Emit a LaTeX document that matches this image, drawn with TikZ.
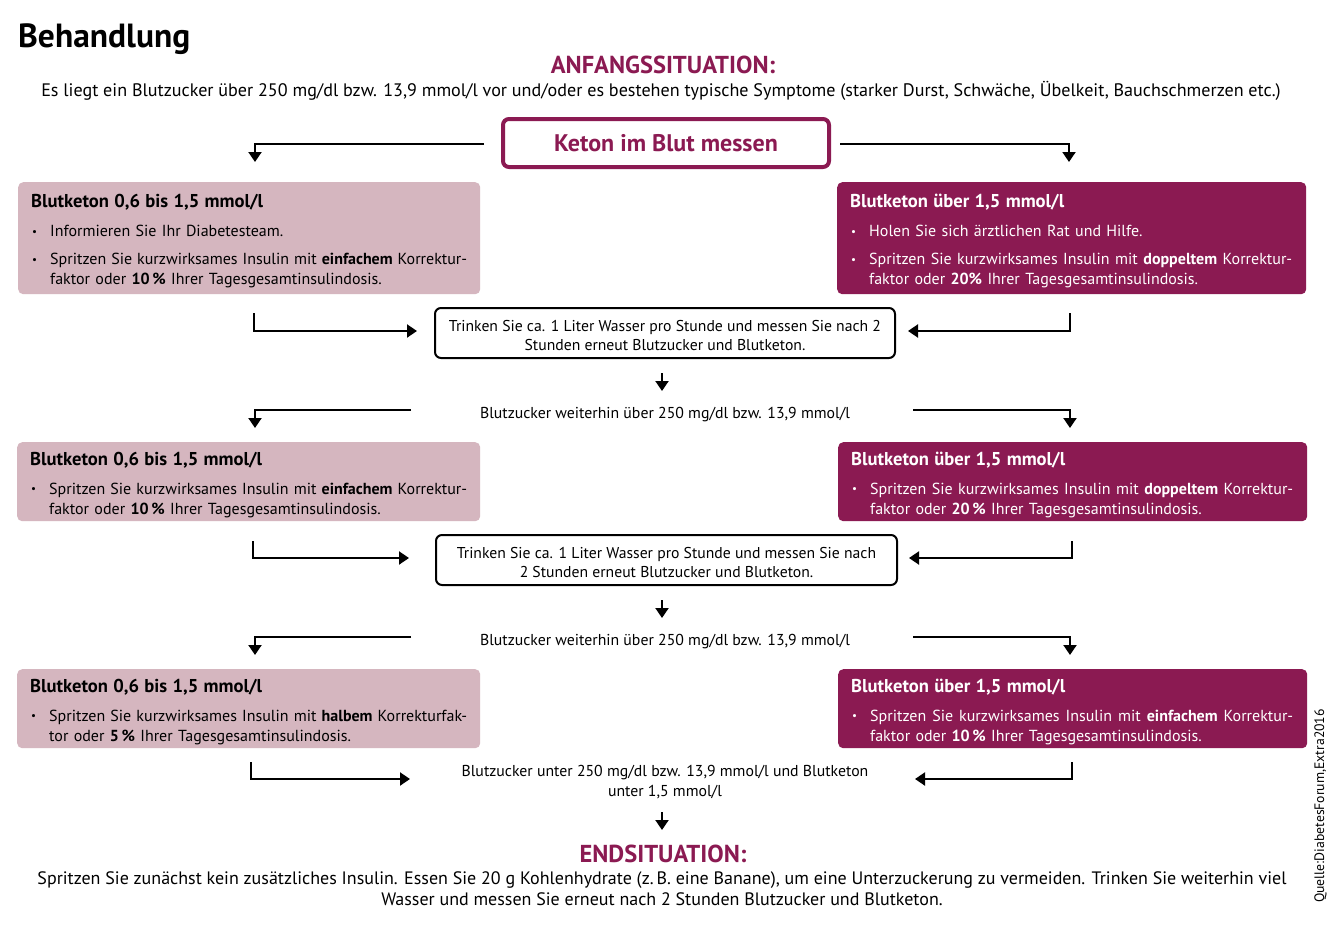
\documentclass[tikz,border=0pt]{standalone}
\usepackage{fontspec}
\setmainfont{PT Sans}
\usetikzlibrary{arrows.meta}
\definecolor{mag}{RGB}{139,26,82}
\definecolor{rose}{RGB}{213,182,191}
\newcommand{\fsz}[2]{\fontsize{#1}{#2}\selectfont}
\newcommand{\bul}{\makebox[19pt][l]{\hspace{1pt}\raisebox{1.5pt}{\fsz{11}{11}\textbullet}}}
\newcommand{\ind}{\hspace*{19pt}}
\newcommand{\jline}[2]{\makebox[#1][s]{\spaceskip=0pt\xspaceskip=0pt\relax #2}}
\newcommand{\btitle}[1]{\rule{0pt}{19pt}{\fsz{18.6}{20}\bfseries #1}}
\begin{document}
\begin{tikzpicture}[x=1pt,y=-1pt,
  arr/.style={line width=2pt,-{Triangle[width=13pt,length=10pt]}},
  box/.style={rounded corners=5pt,anchor=north west,inner xsep=13pt,inner ysep=0pt,align=left,font=\fsz{16}{20}},
  lbox/.style={box,fill=rose,text=black},
  rbox/.style={box,fill=mag,text=white},
  trink/.style={draw,line width=2pt,rounded corners=6pt,minimum width=460pt,minimum height=50pt,align=center,font=\fsz{15.7}{19},inner sep=0pt},
  plain/.style={align=center,font=\fsz{15.8}{20},inner sep=0pt},
  head/.style={text=mag,font=\fsz{24.5}{28}\bfseries,inner sep=0pt}
 ]
\useasboundingbox (0,0) rectangle (1339,926);
\fill[white] (0,0) rectangle (1339,926);

\node[anchor=base west,inner sep=0pt,font=\fsz{33.5}{38}\bfseries] (title) at (18,47) {Behandlung};
\node[head,anchor=base] (anf) at (663,73) {ANFANGSSITUATION:};
\node[plain,anchor=base,font=\fsz{18.1}{22}] (anftxt) at (661,96) {Es liegt ein Blutzucker über 250 mg/dl bzw. 13,9 mmol/l vor und/oder es bestehen typische Symptome (starker Durst, Schwäche, Übelkeit, Bauchschmerzen etc.)};

\node[draw=mag,line width=4pt,rounded corners=6pt,minimum width=326pt,minimum height=48pt,text=mag,font=\fsz{24}{28}\bfseries,inner sep=0pt] (ket) at (666,143) {Keton im Blut messen};

% row 1
\node[lbox,text width=436pt,minimum height=112pt] (l1) at (18,182) {%
\btitle{Blutketon 0,6 bis 1,5 mmol/l}\\[9pt]
\bul Informieren Sie Ihr Diabetesteam.\\[8pt]
\bul\jline{417pt}{Spritzen Sie kurzwirksames Insulin mit \textbf{einfachem} Korrektur-}\\
\ind faktor oder \textbf{10\,\%} Ihrer Tagesgesamtinsulindosis.};
\node[rbox,text width=443pt,minimum height=112pt] (r1) at (837,182) {%
\btitle{Blutketon über 1,5 mmol/l}\\[9pt]
\bul Holen Sie sich ärztlichen Rat und Hilfe.\\[8pt]
\bul\jline{423pt}{Spritzen Sie kurzwirksames Insulin mit \textbf{doppeltem} Korrektur-}\\
\ind faktor oder \textbf{20\%} Ihrer Tagesgesamtinsulindosis.};

\node[trink] (t1) at (665,333) {\rule{0pt}{16pt}Trinken Sie ca. 1 Liter Wasser pro Stunde und messen Sie nach 2\\Stunden erneut Blutzucker und Blutketon.};
\node[plain,anchor=base] (w1) at (665,418) {Blutzucker weiterhin über 250 mg/dl bzw. 13,9 mmol/l};

% row 2
\node[lbox,text width=437pt,minimum height=79pt] (l2) at (17,442) {%
\btitle{Blutketon 0,6 bis 1,5 mmol/l}\\[9pt]
\bul\jline{418pt}{Spritzen Sie kurzwirksames Insulin mit \textbf{einfachem} Korrektur-}\\
\ind faktor oder \textbf{10\,\%} Ihrer Tagesgesamtinsulindosis.};
\node[rbox,text width=443pt,minimum height=79pt] (r2) at (838,442) {%
\btitle{Blutketon über 1,5 mmol/l}\\[9pt]
\bul\jline{423pt}{Spritzen Sie kurzwirksames Insulin mit \textbf{doppeltem} Korrektur-}\\
\ind faktor oder \textbf{20\,\%} Ihrer Tagesgesamtinsulindosis.};

\node[trink,minimum width=461pt] (t2) at (666.5,560) {\rule{0pt}{16pt}Trinken Sie ca. 1 Liter Wasser pro Stunde und messen Sie nach\\2 Stunden erneut Blutzucker und Blutketon.};
\node[plain,anchor=base] (w2) at (665,645) {Blutzucker weiterhin über 250 mg/dl bzw. 13,9 mmol/l};

% row 3
\node[lbox,text width=437pt,minimum height=79pt] (l3) at (17,669) {%
\btitle{Blutketon 0,6 bis 1,5 mmol/l}\\[9pt]
\bul\jline{418pt}{Spritzen Sie kurzwirksames Insulin mit \textbf{halbem} Korrekturfak-}\\
\ind tor oder \textbf{5\,\%} Ihrer Tagesgesamtinsulindosis.};
\node[rbox,text width=443pt,minimum height=79pt] (r3) at (838,669) {%
\btitle{Blutketon über 1,5 mmol/l}\\[9pt]
\bul\jline{423pt}{Spritzen Sie kurzwirksames Insulin mit \textbf{einfachem} Korrektur-}\\
\ind faktor oder \textbf{10\,\%} Ihrer Tagesgesamtinsulindosis.};

\node[plain] (u3) at (665,782) {Blutzucker unter 250 mg/dl bzw. 13,9 mmol/l und Blutketon\\unter 1,5 mmol/l};

\node[head,anchor=base] (end) at (663,862) {ENDSITUATION:};
\node[plain,font=\fsz{18}{21}] (endtxt) at (662,889) {Spritzen Sie zunächst kein zusätzliches Insulin. Essen Sie 20 g Kohlenhydrate (z.\,B. eine Banane), um eine Unterzuckerung zu vermeiden. Trinken Sie weiterhin viel\\Wasser und messen Sie erneut nach 2 Stunden Blutzucker und Blutketon.};

\node[rotate=90,anchor=base west,inner sep=0pt,font=\fsz{13.7}{15}] (src) at (1324,903) {Quelle:DiabetesForum,Extra2016};

% connectors
\coordinate (k1) at (484,144); \coordinate (k1e) at (255,162);
\coordinate (k2) at (840,144); \coordinate (k2e) at (1069,162);
\draw[arr] (k1) -| (k1e);
\draw[arr] (k2) -| (k2e);

\coordinate (a1) at (254,313); \coordinate (b1) at (1070,313);
\draw[arr] (a1) |- ([xshift=-17pt,yshift=2pt]t1.west);
\draw[arr] (b1) |- ([xshift=12pt,yshift=2pt]t1.east);
\coordinate (m1) at (662,373); \coordinate (m1e) at (662,391);
\draw[arr] (m1) -- (m1e);
\coordinate (c1) at (411,410); \coordinate (c1e) at (255,428);
\coordinate (d1) at (913,410); \coordinate (d1e) at (1070,428);
\draw[arr] (c1) -| (c1e);
\draw[arr] (d1) -| (d1e);

\coordinate (a2) at (253,541); \coordinate (b2) at (1072,541);
\draw[arr] (a2) |- ([xshift=-26pt,yshift=2pt]t2.west);
\draw[arr] (b2) |- ([xshift=11pt,yshift=2pt]t2.east);
\coordinate (m2) at (662,600); \coordinate (m2e) at (662,618);
\draw[arr] (m2) -- (m2e);
\coordinate (c2) at (411,637); \coordinate (c2e) at (255,655);
\coordinate (d2) at (913,637); \coordinate (d2e) at (1070,655);
\draw[arr] (c2) -| (c2e);
\draw[arr] (d2) -| (d2e);

\coordinate (a3) at (251,762); \coordinate (a3e) at (410,779);
\coordinate (b3) at (1072,762); \coordinate (b3e) at (915,779);
\draw[arr] (a3) |- (a3e);
\draw[arr] (b3) |- (b3e);
\coordinate (e1) at (662,812); \coordinate (e1e) at (662,830);
\draw[arr] (e1) -- (e1e);
\end{tikzpicture}
\end{document}
